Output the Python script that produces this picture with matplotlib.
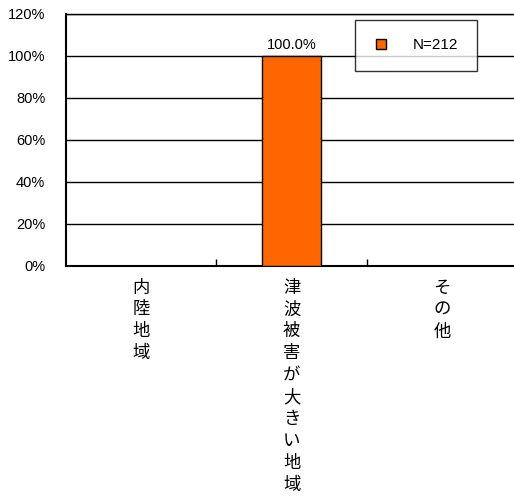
import matplotlib
matplotlib.use('Agg')
import matplotlib.pyplot as plt
from matplotlib.lines import Line2D

plt.rcParams['font.family'] = ['Noto Sans CJK JP', 'DejaVu Sans']

# データ
categories = ['内陸地域', '津波被害が大きい地域', 'その他']
values = [None, 100.0, None]
legend_label = 'N=212'

fig = plt.figure(figsize=(5.14, 4.99), dpi=100)
ax = fig.add_axes([0.1284, 0.467, 0.878, 0.505])

x = list(range(len(categories)))
heights = [v if v is not None else 0 for v in values]
bars = ax.bar(x, heights, width=0.39, color='#FF6600', edgecolor='black', linewidth=1.0, zorder=3)

for xi, v in zip(x, values):
    if v is not None:
        ax.text(xi, v + 2, f'{v:.1f}%', ha='center', va='bottom', fontsize=10.5,
                family=['Liberation Sans', 'DejaVu Sans'])

ax.set_xlim(-0.5, len(categories) - 0.5)
ax.set_ylim(0, 120)
ax.set_yticks(range(0, 121, 20))
ax.set_yticklabels([f'{t}%' for t in range(0, 121, 20)], family=['Liberation Sans', 'DejaVu Sans'], fontsize=10.5)
ax.yaxis.grid(True, color='black', linewidth=1.0, zorder=0)
ax.tick_params(axis='y', length=0, pad=15)

# 区切りの目盛り
ax.set_xticks([0.5, 1.5])
ax.set_xticklabels([])
ax.tick_params(axis='x', direction='in', length=5, width=1.0)

for xi, c in zip(x, categories):
    ax.text(xi, -6, '\n'.join(c), ha='center', va='top', fontsize=12.5,
            linespacing=1.28, clip_on=False)

ax.spines['right'].set_visible(False)
ax.spines['left'].set_linewidth(1.5)
ax.spines['bottom'].set_linewidth(1.5)
ax.spines['top'].set_linewidth(1.0)

handle = Line2D([], [], marker='s', linestyle='none', markersize=7,
                markerfacecolor='#FF6600', markeredgecolor='black')
leg = ax.legend([handle], [legend_label], loc='upper left', bbox_to_anchor=(0.64, 0.976),
                frameon=True, fancybox=False, edgecolor='black',
                handlelength=1.0, handletextpad=1.6, borderpad=1.2, borderaxespad=0,
                prop={'family': ['Liberation Sans', 'DejaVu Sans'], 'size': 11})
leg.get_frame().set_linewidth(1.0)

fig.savefig('out.png', dpi=100, facecolor='white')
